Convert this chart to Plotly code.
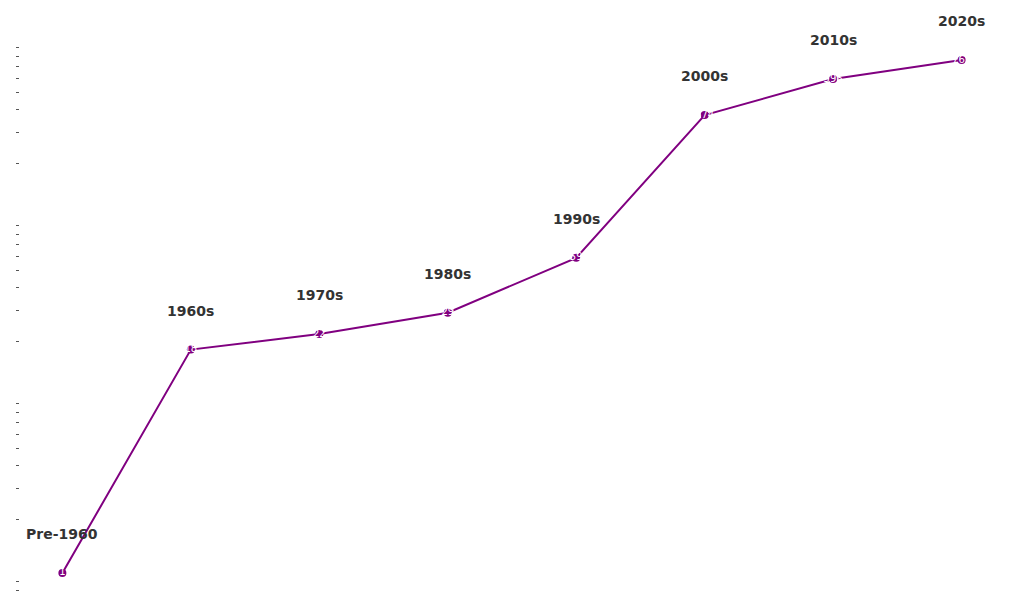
import math
import plotly.graph_objects as go

decades = ["Pre-1960", "1960s", "1970s", "1980s", "1990s", "2000s", "2010s", "2020s"]
values = [1, 18, 22, 29, 59, 374, 596, 762]
tick_vals = [0.8, 0.9, 2, 3, 4, 5, 6, 7, 8, 9, 20, 30, 40, 50, 60, 70, 80, 90,
             200, 300, 400, 500, 600, 700, 800, 900]

fig = go.Figure()
fig.add_trace(go.Scatter(
    x=list(range(len(decades))), y=values,
    mode="lines+markers+text",
    text=[str(v) for v in values],
    textposition="middle center",
    textfont=dict(color="white", size=10, family="DejaVu Sans"),
    line=dict(color="purple", width=2),
    marker=dict(color="purple", size=8),
    hoverinfo="skip",
    showlegend=False,
))

for i, (d, v) in enumerate(zip(decades, values)):
    fig.add_annotation(x=i, y=math.log10(v), text=f"<b>{d}</b>", showarrow=False,
                       yshift=39,
                       font=dict(size=14, color="#333333", family="DejaVu Sans"))

fig.update_layout(
    width=1024, height=614,
    paper_bgcolor="white", plot_bgcolor="white",
    margin=dict(l=9, r=28, t=12, b=28),
    font=dict(family="DejaVu Sans"),
    xaxis=dict(range=[-0.33, 7.33], showgrid=False, zeroline=False,
               showticklabels=False, ticks="", showline=False),
    yaxis=dict(type="log", range=[math.log10(0.762), 3.107], showgrid=False,
               zeroline=False, showline=False, tickmode="array",
               tickvals=tick_vals, ticktext=["" for _ in tick_vals],
               ticks="outside", ticklen=3, tickcolor="#555555"),
)

fig.write_html("out.html")
